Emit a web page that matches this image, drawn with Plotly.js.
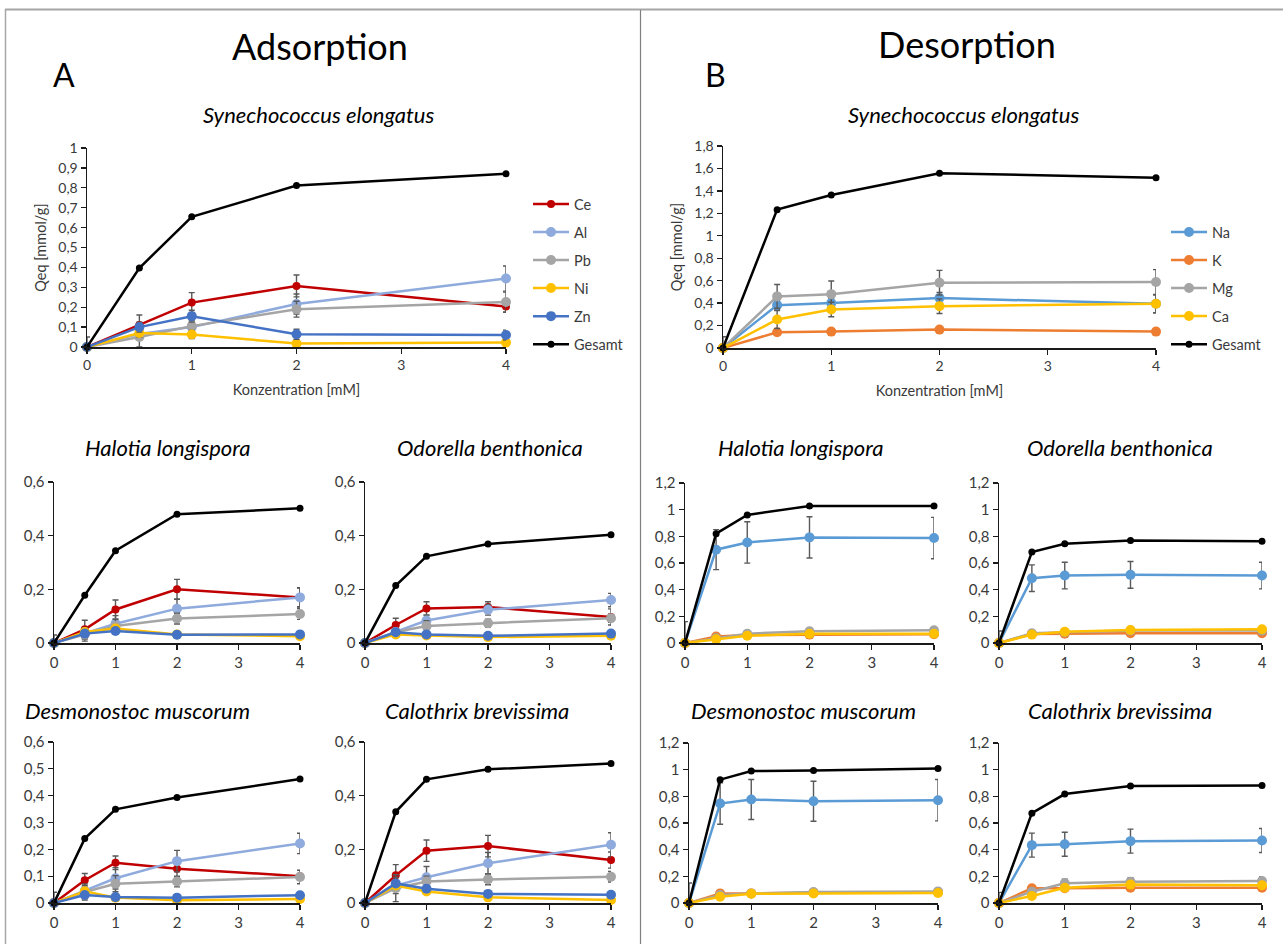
<!DOCTYPE html>
<html>
<head>
<meta charset="utf-8">
<script src="https://cdn.plot.ly/plotly-3.0.1.min.js"></script>
<style>
  html, body { margin: 0; padding: 0; background: #ffffff; }
  #chart { width: 1283px; height: 944px; }
</style>
</head>
<body>
<div id="chart"></div>
<script>
// Metal concentrations used in the experiments (mM)
const conc = [0, 0.5, 1, 2, 4];

// Series names (row order of every data table below)
const adsNames = ['Ce', 'Al', 'Pb', 'Ni', 'Zn', 'Gesamt'];
const desNames = ['Na', 'K', 'Mg', 'Ca', 'Gesamt'];

// ---- Adsorption, Qeq [mmol/g] ----
const adsSyn = [
  [0, 0.111, 0.223, 0.307, 0.204],
  [0, 0.066, 0.100, 0.216, 0.344],
  [0, 0.050, 0.105, 0.190, 0.226],
  [0, 0.070, 0.063, 0.017, 0.022],
  [0, 0.100, 0.155, 0.064, 0.060],
  [0, 0.397, 0.654, 0.811, 0.870]
];
const adsSynErr = [
  [0, 0.050, 0.050, 0.055, 0.030],
  [0, 0.020, 0.030, 0.050, 0.063],
  [0.050, 0.055, 0.030, 0.040, 0.050],
  [0, 0.020, 0.020, 0.010, 0.010],
  [0, 0.025, 0.030, 0.025, 0.025],
  [0, 0, 0, 0, 0]
];
const adsHal = [
  [0, 0.051, 0.125, 0.200, 0.170],
  [0, 0.035, 0.072, 0.128, 0.170],
  [0, 0.032, 0.063, 0.091, 0.108],
  [0, 0.041, 0.054, 0.032, 0.025],
  [0, 0.035, 0.045, 0.031, 0.032],
  [0, 0.178, 0.344, 0.480, 0.502]
];
const adsHalErr = [
  [0, 0.034, 0.035, 0.037, 0.036],
  [0, 0.020, 0.030, 0.035, 0.035],
  [0.030, 0.025, 0.025, 0.020, 0.020],
  [0, 0.010, 0.010, 0.005, 0.005],
  [0, 0.010, 0.010, 0.005, 0.005],
  [0, 0, 0, 0, 0]
];
const adsOdo = [
  [0, 0.067, 0.129, 0.134, 0.097],
  [0, 0.041, 0.084, 0.124, 0.160],
  [0, 0.041, 0.063, 0.074, 0.092],
  [0, 0.032, 0.028, 0.022, 0.027],
  [0, 0.040, 0.032, 0.027, 0.035],
  [0, 0.214, 0.323, 0.369, 0.403]
];
const adsOdoErr = [
  [0, 0.025, 0.025, 0.020, 0.030],
  [0, 0.010, 0.020, 0.020, 0.025],
  [0, 0.010, 0.020, 0.015, 0.015],
  [0, 0.005, 0.005, 0.005, 0.005],
  [0, 0.005, 0.005, 0.005, 0.005],
  [0, 0, 0, 0, 0]
];
const adsDes = [
  [0, 0.085, 0.150, 0.128, 0.100],
  [0, 0.045, 0.092, 0.156, 0.222],
  [0, 0.041, 0.072, 0.080, 0.097],
  [0, 0.044, 0.020, 0.010, 0.015],
  [0, 0.030, 0.022, 0.020, 0.029],
  [0, 0.240, 0.349, 0.393, 0.462]
];
const adsDesErr = [
  [0, 0.025, 0.025, 0.030, 0.010],
  [0, 0.020, 0.040, 0.040, 0.038],
  [0.040, 0.030, 0.030, 0.020, 0.025],
  [0, 0.010, 0.005, 0.005, 0.005],
  [0, 0.010, 0.005, 0.005, 0.005],
  [0, 0, 0, 0, 0]
];
const adsCal = [
  [0, 0.103, 0.195, 0.212, 0.160],
  [0, 0.065, 0.096, 0.148, 0.217],
  [0, 0.055, 0.080, 0.088, 0.098],
  [0, 0.065, 0.043, 0.021, 0.011],
  [0, 0.073, 0.053, 0.034, 0.031],
  [0, 0.340, 0.461, 0.498, 0.520]
];
const adsCalErr = [
  [0, 0.040, 0.040, 0.040, 0.030],
  [0, 0.030, 0.040, 0.040, 0.045],
  [0, 0.050, 0.020, 0.020, 0.020],
  [0, 0.010, 0.005, 0.005, 0.005],
  [0, 0.010, 0.005, 0.005, 0.005],
  [0, 0, 0, 0, 0]
];

// ---- Desorption, Qeq [mmol/g] ----
const desSyn = [
  [0, 0.382, 0.400, 0.445, 0.394],
  [0, 0.140, 0.146, 0.164, 0.146],
  [0, 0.460, 0.480, 0.582, 0.588],
  [0, 0.254, 0.343, 0.373, 0.394],
  [0, 1.233, 1.364, 1.558, 1.516]
];
const desSynErr = [
  [0, 0.040, 0.040, 0.050, 0.080],
  [0, 0.020, 0.020, 0.020, 0.010],
  [0.100, 0.106, 0.117, 0.110, 0.110],
  [0, 0.080, 0.065, 0.065, 0.080],
  [0, 0, 0, 0, 0]
];
const desHal = [
  [0, 0.700, 0.754, 0.792, 0.787],
  [0, 0.048, 0.060, 0.063, 0.065],
  [0, 0.035, 0.070, 0.088, 0.095],
  [0, 0.028, 0.055, 0.070, 0.070],
  [0, 0.820, 0.960, 1.028, 1.028]
];
const desHalErr = [
  [0.160, 0.150, 0.155, 0.155, 0.155],
  [0, 0.010, 0.010, 0.010, 0.010],
  [0, 0.010, 0.010, 0.010, 0.010],
  [0, 0.010, 0.010, 0.010, 0.010],
  [0, 0, 0, 0, 0]
];
const desOdo = [
  [0, 0.486, 0.506, 0.511, 0.506],
  [0, 0.068, 0.070, 0.073, 0.073],
  [0, 0.073, 0.080, 0.093, 0.093],
  [0, 0.063, 0.085, 0.098, 0.103],
  [0, 0.682, 0.744, 0.769, 0.764]
];
const desOdoErr = [
  [0.090, 0.100, 0.100, 0.100, 0.100],
  [0, 0.005, 0.005, 0.005, 0.005],
  [0, 0.010, 0.010, 0.010, 0.010],
  [0, 0.010, 0.010, 0.010, 0.010],
  [0, 0, 0, 0, 0]
];
const desDes = [
  [0, 0.746, 0.776, 0.763, 0.771],
  [0, 0.072, 0.072, 0.077, 0.080],
  [0, 0.060, 0.072, 0.082, 0.087],
  [0, 0.047, 0.070, 0.072, 0.075],
  [0, 0.925, 0.990, 0.993, 1.008]
];
const desDesErr = [
  [0.150, 0.155, 0.150, 0.150, 0.155],
  [0, 0.005, 0.005, 0.005, 0.005],
  [0, 0.010, 0.010, 0.010, 0.010],
  [0, 0.010, 0.010, 0.010, 0.010],
  [0, 0, 0, 0, 0]
];
const desCal = [
  [0, 0.434, 0.441, 0.464, 0.469],
  [0, 0.110, 0.110, 0.115, 0.115],
  [0, 0.085, 0.148, 0.160, 0.165],
  [0, 0.053, 0.115, 0.138, 0.133],
  [0, 0.674, 0.817, 0.877, 0.882]
];
const desCalErr = [
  [0.080, 0.090, 0.090, 0.090, 0.090],
  [0, 0.010, 0.010, 0.010, 0.010],
  [0, 0.020, 0.030, 0.030, 0.030],
  [0, 0.010, 0.010, 0.010, 0.010],
  [0, 0, 0, 0, 0]
];

// ---- Styling ----
const FONT = 'Lato, "Open Sans", sans-serif';
const TEXT = '#3a3a3a';
const adsStyle = {
  colors: ['#C00000', '#8FAADC', '#A5A5A5', '#FFC000', '#4472C4', '#000000'],
  sizes:  [8, 10, 10, 10, 10, 7]
};
const desStyle = {
  colors: ['#5B9BD5', '#ED7D31', '#A5A5A5', '#FFC000', '#000000'],
  sizes:  [10, 10, 10, 10, 7]
};

const W = 1283, H = 944;
const fx = p => p / W;
const fy = p => 1 - p / H;

// Plot boxes in page pixels: [left, top, right, bottom]
const panels = [
  { v: adsSyn, e: adsSynErr, names: adsNames, st: adsStyle, box: [87, 148, 506, 347], ymax: 1.0, dtick: 0.1, legend: 'legend', titled: true, tag: 'a' },
  { v: desSyn, e: desSynErr, names: desNames, st: desStyle, box: [723, 146, 1156, 348], ymax: 1.8, dtick: 0.2, legend: 'legend2', titled: true, tag: 'b' },
  { v: adsHal, e: adsHalErr, names: adsNames, st: adsStyle, box: [54, 482, 300, 643], ymax: 0.6, dtick: 0.2 },
  { v: adsOdo, e: adsOdoErr, names: adsNames, st: adsStyle, box: [365, 482, 611, 643], ymax: 0.6, dtick: 0.2 },
  { v: adsDes, e: adsDesErr, names: adsNames, st: adsStyle, box: [54, 742, 300, 903], ymax: 0.6, dtick: 0.1 },
  { v: adsCal, e: adsCalErr, names: adsNames, st: adsStyle, box: [365, 742, 611, 903], ymax: 0.6, dtick: 0.2 },
  { v: desHal, e: desHalErr, names: desNames, st: desStyle, box: [685, 483, 934, 643], ymax: 1.2, dtick: 0.2 },
  { v: desOdo, e: desOdoErr, names: desNames, st: desStyle, box: [999, 483, 1262, 643], ymax: 1.2, dtick: 0.2 },
  { v: desDes, e: desDesErr, names: desNames, st: desStyle, box: [689, 743, 938, 903], ymax: 1.2, dtick: 0.2 },
  { v: desCal, e: desCalErr, names: desNames, st: desStyle, box: [999, 743, 1262, 903], ymax: 1.2, dtick: 0.2 }
];

const traces = [];
const layout = {
  width: W, height: H, autosize: false,
  margin: { l: 0, r: 0, t: 0, b: 0 },
  paper_bgcolor: '#ffffff', plot_bgcolor: 'rgba(0,0,0,0)',
  separators: ',.',
  font: { family: FONT, color: TEXT, size: 14 },
  hovermode: false,
  showlegend: true,
  annotations: [],
  shapes: []
};

const legendBase = {
  xanchor: 'left', yanchor: 'top',
  bgcolor: 'rgba(0,0,0,0)', borderwidth: 0,
  font: { family: FONT, size: 14.5, color: TEXT },
  traceorder: 'grouped', tracegroupgap: 6.2, itemwidth: 36
};
layout.legend  = Object.assign({}, legendBase, { x: fx(528), y: fy(188) });
layout.legend2 = Object.assign({}, legendBase, { x: fx(1166), y: fy(216) });

panels.forEach((p, i) => {
  const n = i === 0 ? '' : String(i + 1);
  const [l, t, r, b] = p.box;
  const axisCommon = {
    showline: true, linecolor: '#1a1a1a', linewidth: 1.5,
    ticks: 'outside', ticklen: 5, tickwidth: 1.3, tickcolor: '#1a1a1a',
    showgrid: false, zeroline: false, fixedrange: true,
    tickfont: { family: FONT, size: p.titled ? 14 : 15, color: TEXT }
  };
  layout['xaxis' + n] = Object.assign({}, axisCommon, {
    domain: [fx(l), fx(r)], anchor: 'y' + n,
    range: [0, 4], tick0: 0, dtick: 1
  });
  layout['yaxis' + n] = Object.assign({}, axisCommon, {
    domain: [fy(b), fy(t)], anchor: 'x' + n,
    range: [0, p.ymax], tick0: 0, dtick: p.dtick
  });
  if (p.titled) {
    layout['xaxis' + n].title = { text: 'Konzentration [mM]', font: { family: FONT, size: 14.5, color: TEXT }, standoff: 12 };
    layout['yaxis' + n].title = { text: 'Qeq [mmol/g]', font: { family: FONT, size: 14.5, color: TEXT }, standoff: 8 };
  }

  p.v.forEach((vals, k) => {
    const name = p.names[k];
    const err = p.e[k];
    const hasErr = err.some(d => d > 0);
    traces.push({
      type: 'scatter', mode: 'lines+markers',
      x: conc, y: vals, name: name,
      xaxis: 'x' + n, yaxis: 'y' + n,
      cliponaxis: false,
      line: { color: p.st.colors[k], width: 2.5 },
      marker: { color: p.st.colors[k], size: p.st.sizes[k], symbol: 'circle' },
      error_y: hasErr ? {
        type: 'data', symmetric: false,
        array: err, arrayminus: err.map((d, j) => Math.min(d, vals[j])),
        color: '#595959', thickness: 1.4, width: 3
      } : { visible: false },
      showlegend: !!p.legend,
      legend: p.legend || 'legend',
      legendgroup: p.legend ? p.tag + '-' + name : undefined
    });
  });
});

// Headings
const ann = (text, x, y, size, extra) => Object.assign({
  text: text, xref: 'paper', yref: 'paper', x: fx(x), y: fy(y),
  xanchor: 'center', yanchor: 'middle', showarrow: false,
  font: { family: FONT, size: size, color: '#000000' }
}, extra || {});

layout.annotations.push(
  ann('Adsorption', 320, 46, 36),
  ann('Desorption', 967, 44, 36),
  ann('A', 64, 75, 32),
  ann('B', 715, 75, 32),
  ann('<i>Synechococcus elongatus</i>', 319, 115, 22),
  ann('<i>Synechococcus elongatus</i>', 964, 115, 22),
  ann('<i>Halotia longispora</i>', 167, 447, 22),
  ann('<i>Odorella benthonica</i>', 490, 447, 22),
  ann('<i>Desmonostoc muscorum</i>', 137, 710, 22),
  ann('<i>Calothrix brevissima</i>', 477, 710, 22),
  ann('<i>Halotia longispora</i>', 800, 447, 22),
  ann('<i>Odorella benthonica</i>', 1120, 447, 22),
  ann('<i>Desmonostoc muscorum</i>', 803, 710, 22),
  ann('<i>Calothrix brevissima</i>', 1120, 710, 22)
);

// Frame around the figure and divider between the two halves
const line = (x0, y0, x1, y1, color, w) => ({
  type: 'line', xref: 'paper', yref: 'paper',
  x0: fx(x0), y0: fy(y0), x1: fx(x1), y1: fy(y1),
  line: { color: color, width: w }
});
layout.shapes.push(
  line(5, 9.5, W, 9.5, '#a6a6a6', 2),
  line(5.5, 9, 5.5, H, '#a6a6a6', 1.5),
  line(640.5, 10, 640.5, H, '#7f7f7f', 1.2)
);

Plotly.newPlot('chart', traces, layout, { staticPlot: true, displayModeBar: false });
</script>
</body>
</html>
